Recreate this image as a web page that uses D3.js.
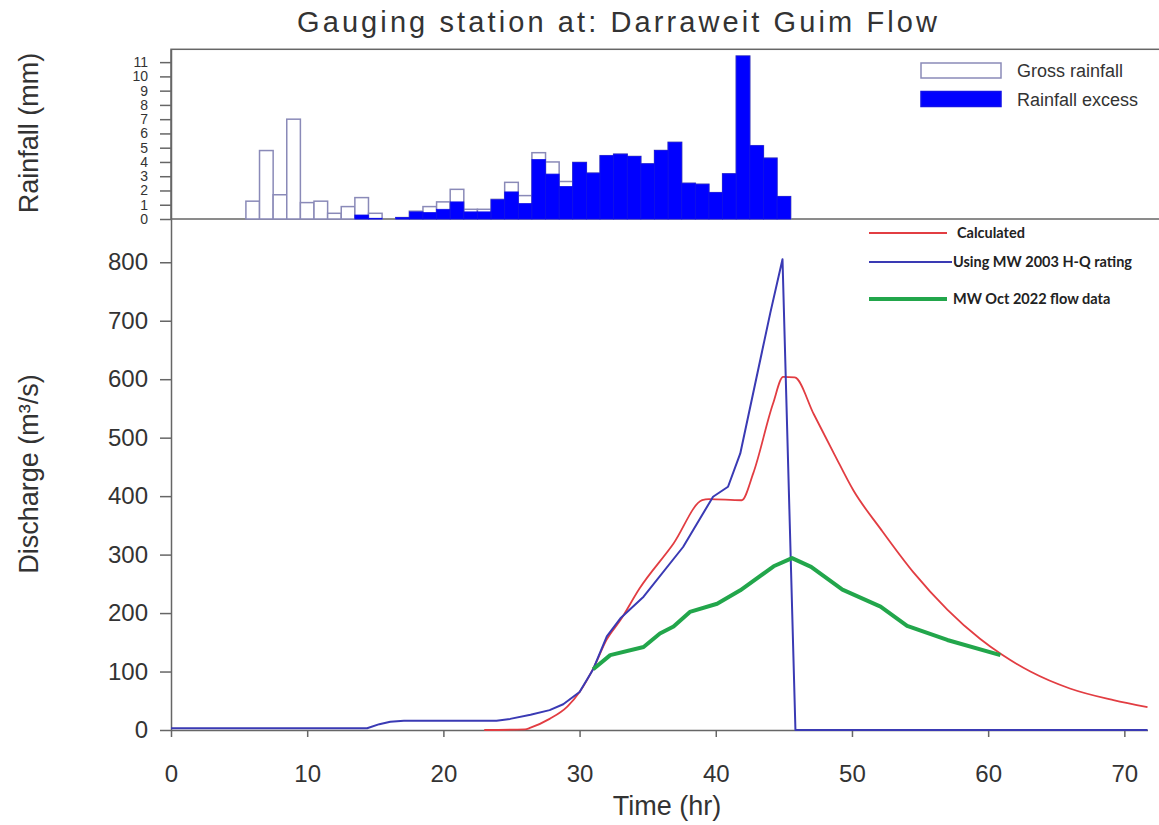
<html><head>
<title>Darraweit Guim Flow</title>
<script src="https://d3js.org/d3.v7.min.js"></script>
<style>
  body { margin: 0; background: #fff; }
  text { font-family: "Liberation Sans", Arial, sans-serif; fill: #333; }
  .legend-bold { font-family: Lato, "Open Sans", sans-serif; font-weight: 700; fill: #222; }
</style>
</head>
<body>
<svg id="chart" width="1159" height="825"></svg>

<script>

  // Rainfall, hourly bars (hour at bar centre)
  const rainHours = [6,7,8,9,10,11,12,13,14,15,16,17,18,19,20,21,22,23,24,25,26,27,28,29,30,31,32,33,34,35,36,37,38,39,40,41,42,43,44,45];
  const grossRain = [1.25,4.8,1.7,7.0,1.15,1.25,0.4,0.87,1.5,0.4,0,0.1,0.55,0.87,1.2,2.08,0.68,0.68,1.38,2.57,1.64,4.65,4.0,2.63,3.97,3.22,4.44,4.55,4.39,3.87,4.81,5.38,2.51,2.44,1.85,3.17,11.43,5.14,4.27,1.57];
  const excessRain = [0,0,0,0,0,0,0,0,0.28,0.05,0,0.1,0.5,0.45,0.68,1.2,0.5,0.5,1.35,1.9,1.08,4.17,3.15,2.28,3.97,3.22,4.44,4.55,4.39,3.87,4.81,5.38,2.51,2.44,1.85,3.17,11.43,5.14,4.27,1.57];
  const rainTicks = [0,1,2,3,4,5,6,7,8,9,10,11];

  // Discharge hydrographs
  const calcTime = [23,26,26.4,27.8,29.1,30,31,32,33,34.4,36.9,39,39.5,41.9,42.75,44.2,44.95,45.8,47.2,48.7,50.1,52.1,54.5,57,59.4,61,63.1,66,69.2,71.7];
  const calcFlow = [0,1,4,19,40,65,105,155,188,242,319,393,395,393,439,558,604,603,540,472,410,344,270,206,156,129,100,71,51,39];

  const hqTime = [0,14.4,15.3,16.1,17.1,23.9,24.9,26.4,27.8,28.8,30,31,32,33,34.7,37.6,39.8,40.9,41.8,44,44.9,45.85,71.7];
  const hqFlow = [3,3,10,14,16,16,19,26,34,44,65,104,160,191,228,313,399,416,473,713,805,0,0];

  const obsTime = [31,32.25,34.7,35.9,36.9,38.1,40.1,41.8,44.25,45.6,47,49.3,52.1,54.05,57,60.9];
  const obsFlow = [104,128,142,165,177,202,216,239,280,294,279,240,211,178,154,128];

  const flowTicks = [0,100,200,300,400,500,600,700,800];
  const timeTicks = [0,10,20,30,40,50,60,70];

  const series = [
    { name: "Calculated", t: calcTime, q: calcFlow, color: "#e23d42", width: 1.8, curve: d3.curveMonotoneX },
    { name: "Using MW 2003 H-Q rating", t: hqTime, q: hqFlow, color: "#3a3ab4", width: 2, curve: d3.curveLinear },
    { name: "MW Oct 2022 flow data", t: obsTime, q: obsFlow, color: "#22a64b", width: 4, curve: d3.curveLinear }
  ];

  const svg = d3.select("#chart");

  // Layout
  const left = 171, right = 1147.5;
  const rainTop = 49.3, rainBottom = 219;
  const flowTop = 219, flowBottom = 730;

  const x = d3.scaleLinear().domain([0, 71.7]).range([left, right]);
  const yRain = d3.scaleLinear().domain([0, 11.9]).range([rainBottom, rainTop]);
  const yFlow = d3.scaleLinear().domain([0, 874]).range([flowBottom, flowTop]);

  // Rainfall frame
  svg.append("rect")
     .attr("x", left).attr("y", rainTop)
     .attr("width", 1200 - left).attr("height", rainBottom - rainTop)
     .attr("fill", "none").attr("stroke", "#666").attr("stroke-width", 1.5);

  const rain = rainHours.map((h, i) => ({ h: h, gross: grossRain[i], excess: excessRain[i] }));

  svg.append("g").selectAll("rect")
     .data(rain.filter(d => d.gross > 0))
     .join("rect")
     .attr("x", d => x(d.h - 0.5))
     .attr("width", d => x(d.h + 0.5) - x(d.h - 0.5))
     .attr("y", d => yRain(d.gross))
     .attr("height", d => yRain(0) - yRain(d.gross))
     .attr("fill", "#fff")
     .attr("stroke", "#8a8ab8")
     .attr("stroke-width", 1.5);

  svg.append("g").selectAll("rect")
     .data(rain.filter(d => d.excess > 0))
     .join("rect")
     .attr("x", d => x(d.h - 0.5))
     .attr("width", d => x(d.h + 0.5) - x(d.h - 0.5))
     .attr("y", d => yRain(d.excess))
     .attr("height", d => yRain(0) - yRain(d.excess))
     .attr("fill", "#0000ff")
     .attr("stroke", "#1010e8")
     .attr("stroke-width", 0.8);

  // Axes
  function styleAxis(size) {
    return g => {
      g.selectAll("path, line").attr("stroke", "#666").attr("stroke-width", 1.5);
      g.selectAll("text").attr("font-size", size).attr("fill", "#333")
       .attr("font-family", "'Liberation Sans', Arial, sans-serif");
    };
  }

  // rainfall ticks are packed tight, so smaller labels
  svg.append("g")
     .attr("transform", "translate(" + left + ",0)")
     .call(d3.axisLeft(yRain).tickValues(rainTicks).tickSize(11).tickPadding(12).tickSizeOuter(0))
     .call(styleAxis(14));

  svg.append("g")
     .attr("transform", "translate(" + left + ",0)")
     .call(d3.axisLeft(yFlow).tickValues(flowTicks).tickSize(11).tickPadding(12).tickSizeOuter(0))
     .call(styleAxis(24));

  svg.append("g")
     .attr("transform", "translate(0," + flowBottom + ")")
     .call(d3.axisBottom(x).tickValues(timeTicks).tickSize(7).tickPadding(28).tickSizeOuter(0))
     .call(styleAxis(24));

  // Hydrograph lines
  svg.append("g").selectAll("path")
     .data(series)
     .join("path")
     .attr("d", s => d3.line().curve(s.curve).x(d => x(d[0])).y(d => yFlow(d[1]))(s.t.map((t, i) => [t, s.q[i]])))
     .attr("fill", "none")
     .attr("stroke", s => s.color)
     .attr("stroke-width", s => s.width)
     .attr("stroke-linejoin", "round");

  // Titles
  svg.append("text")
     .attr("x", 617).attr("y", 32)
     .attr("text-anchor", "middle")
     .attr("font-size", 29)
     .attr("textLength", 640)
     .text("Gauging station at: Darraweit Guim Flow");

  svg.append("text")
     .attr("transform", "translate(38,133) rotate(-90)")
     .attr("text-anchor", "middle")
     .attr("font-size", 27)
     .text("Rainfall (mm)");

  svg.append("text")
     .attr("transform", "translate(38,474) rotate(-90)")
     .attr("text-anchor", "middle")
     .attr("font-size", 27)
     .text("Discharge (m³/s)");

  svg.append("text")
     .attr("x", 667).attr("y", 815)
     .attr("text-anchor", "middle")
     .attr("font-size", 27)
     .text("Time (hr)");

  // Rainfall legend
  const rainLegend = [
    { label: "Gross rainfall", fill: "#fff", stroke: "#8a8ab8" },
    { label: "Rainfall excess", fill: "#0000ff", stroke: "#1010e8" }
  ];
  const rl = svg.append("g").selectAll("g").data(rainLegend).join("g")
     .attr("transform", (d, i) => "translate(921," + (63 + i * 28.5) + ")");
  rl.append("rect").attr("width", 80).attr("height", 15)
     .attr("fill", d => d.fill).attr("stroke", d => d.stroke).attr("stroke-width", 1.5);
  rl.append("text").attr("x", 96).attr("y", 8).attr("dy", "0.35em")
     .attr("font-size", 18).text(d => d.label);

  // Discharge legend
  const legendY = [233, 262, 299];
  const fl = svg.append("g").selectAll("g").data(series).join("g")
     .attr("transform", (d, i) => "translate(869," + legendY[i] + ")");
  fl.append("line").attr("x1", 0).attr("x2", (d, i) => i === 1 ? 83 : 78)
     .attr("stroke", d => d.color).attr("stroke-width", d => d.width);
  fl.append("text").attr("class", "legend-bold")
     .attr("x", (d, i) => i === 0 ? 88 : 84).attr("dy", "0.35em")
     .attr("font-size", 14.5).text(d => d.name);

</script>
</body>
</html>
